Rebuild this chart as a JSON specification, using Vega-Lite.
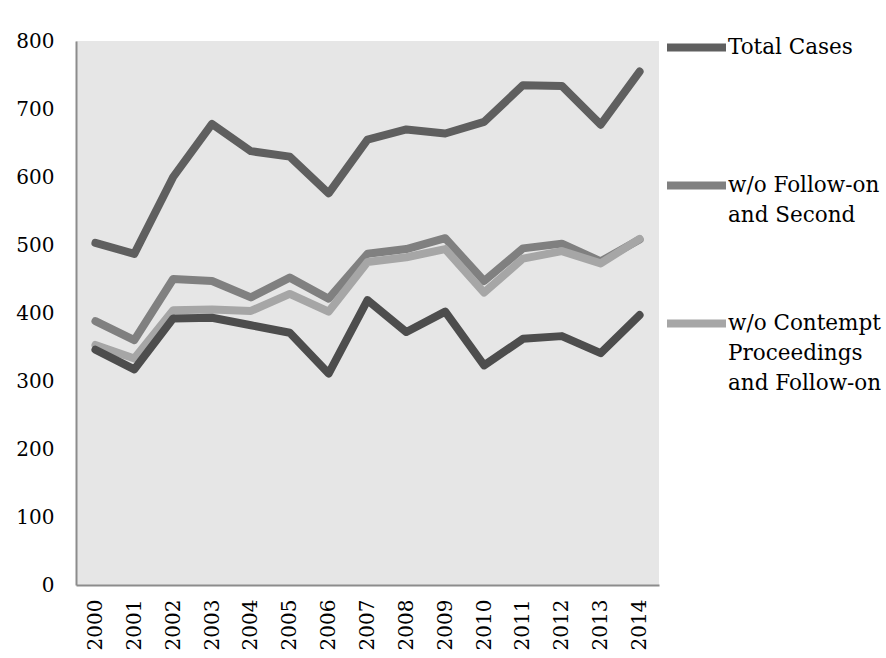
{
  "$schema": "https://vega.github.io/schema/vega-lite/v6.json",
  "width": 583,
  "height": 544,
  "autosize": {"type": "none"},
  "padding": {"left": 76, "top": 41, "right": 227, "bottom": 73},
  "background": "white",
  "config": {
    "font": "DejaVu Serif",
    "view": {"fill": "#e6e6e6", "stroke": null},
    "style": {"guide-label": {"lineHeight": 30}}
  },
  "data": {
    "values": [
      {"year": "2000", "series": "Total Cases", "cases": 503},
      {"year": "2001", "series": "Total Cases", "cases": 487},
      {"year": "2002", "series": "Total Cases", "cases": 600},
      {"year": "2003", "series": "Total Cases", "cases": 678},
      {"year": "2004", "series": "Total Cases", "cases": 638},
      {"year": "2005", "series": "Total Cases", "cases": 630},
      {"year": "2006", "series": "Total Cases", "cases": 576},
      {"year": "2007", "series": "Total Cases", "cases": 655},
      {"year": "2008", "series": "Total Cases", "cases": 670},
      {"year": "2009", "series": "Total Cases", "cases": 664},
      {"year": "2010", "series": "Total Cases", "cases": 681},
      {"year": "2011", "series": "Total Cases", "cases": 735},
      {"year": "2012", "series": "Total Cases", "cases": 734},
      {"year": "2013", "series": "Total Cases", "cases": 677},
      {"year": "2014", "series": "Total Cases", "cases": 755},
      {"year": "2000", "series": "w/o Follow-on and Second", "cases": 388},
      {"year": "2001", "series": "w/o Follow-on and Second", "cases": 360},
      {"year": "2002", "series": "w/o Follow-on and Second", "cases": 450},
      {"year": "2003", "series": "w/o Follow-on and Second", "cases": 447},
      {"year": "2004", "series": "w/o Follow-on and Second", "cases": 423},
      {"year": "2005", "series": "w/o Follow-on and Second", "cases": 452},
      {"year": "2006", "series": "w/o Follow-on and Second", "cases": 421},
      {"year": "2007", "series": "w/o Follow-on and Second", "cases": 487},
      {"year": "2008", "series": "w/o Follow-on and Second", "cases": 494},
      {"year": "2009", "series": "w/o Follow-on and Second", "cases": 510},
      {"year": "2010", "series": "w/o Follow-on and Second", "cases": 447},
      {"year": "2011", "series": "w/o Follow-on and Second", "cases": 495},
      {"year": "2012", "series": "w/o Follow-on and Second", "cases": 502},
      {"year": "2013", "series": "w/o Follow-on and Second", "cases": 476},
      {"year": "2014", "series": "w/o Follow-on and Second", "cases": 508},
      {"year": "2000", "series": "w/o Contempt Proceedings and Follow-on", "cases": 353},
      {"year": "2001", "series": "w/o Contempt Proceedings and Follow-on", "cases": 333},
      {"year": "2002", "series": "w/o Contempt Proceedings and Follow-on", "cases": 404},
      {"year": "2003", "series": "w/o Contempt Proceedings and Follow-on", "cases": 405},
      {"year": "2004", "series": "w/o Contempt Proceedings and Follow-on", "cases": 403},
      {"year": "2005", "series": "w/o Contempt Proceedings and Follow-on", "cases": 428},
      {"year": "2006", "series": "w/o Contempt Proceedings and Follow-on", "cases": 402},
      {"year": "2007", "series": "w/o Contempt Proceedings and Follow-on", "cases": 475},
      {"year": "2008", "series": "w/o Contempt Proceedings and Follow-on", "cases": 482},
      {"year": "2009", "series": "w/o Contempt Proceedings and Follow-on", "cases": 494},
      {"year": "2010", "series": "w/o Contempt Proceedings and Follow-on", "cases": 430},
      {"year": "2011", "series": "w/o Contempt Proceedings and Follow-on", "cases": 480},
      {"year": "2012", "series": "w/o Contempt Proceedings and Follow-on", "cases": 491},
      {"year": "2013", "series": "w/o Contempt Proceedings and Follow-on", "cases": 473},
      {"year": "2014", "series": "w/o Contempt Proceedings and Follow-on", "cases": 509},
      {"year": "2000", "series": "Series 4", "cases": 346},
      {"year": "2001", "series": "Series 4", "cases": 317},
      {"year": "2002", "series": "Series 4", "cases": 392},
      {"year": "2003", "series": "Series 4", "cases": 393},
      {"year": "2004", "series": "Series 4", "cases": 382},
      {"year": "2005", "series": "Series 4", "cases": 371},
      {"year": "2006", "series": "Series 4", "cases": 311},
      {"year": "2007", "series": "Series 4", "cases": 419},
      {"year": "2008", "series": "Series 4", "cases": 372},
      {"year": "2009", "series": "Series 4", "cases": 402},
      {"year": "2010", "series": "Series 4", "cases": 323},
      {"year": "2011", "series": "Series 4", "cases": 362},
      {"year": "2012", "series": "Series 4", "cases": 366},
      {"year": "2013", "series": "Series 4", "cases": 341},
      {"year": "2014", "series": "Series 4", "cases": 397}
    ]
  },
  "mark": {"type": "line", "strokeWidth": 8, "strokeCap": "round", "strokeJoin": "round"},
  "encoding": {
    "x": {
      "field": "year",
      "type": "ordinal",
      "scale": {"type": "point", "padding": 0.5},
      "axis": {
        "title": null,
        "labelAngle": -90,
        "labelFontSize": 20,
        "labelColor": "black",
        "labelPadding": 14,
        "ticks": false,
        "tickSize": 0,
        "domainColor": "#8c8c8c",
        "domainWidth": 2
      }
    },
    "y": {
      "field": "cases",
      "type": "quantitative",
      "scale": {"domain": [0, 800], "nice": false},
      "axis": {
        "title": null,
        "values": [0, 100, 200, 300, 400, 500, 600, 700, 800],
        "grid": false,
        "ticks": false,
        "tickSize": 0,
        "labelFontSize": 20,
        "labelColor": "black",
        "labelPadding": 22,
        "domainColor": "#8c8c8c",
        "domainWidth": 2
      }
    },
    "color": {
      "field": "series",
      "type": "nominal",
      "sort": null,
      "scale": {
        "domain": ["Total Cases", "w/o Follow-on and Second", "w/o Contempt Proceedings and Follow-on", "Series 4"],
        "range": ["#5f5f5f", "#808080", "#a6a6a6", "#4d4d4d"]
      },
      "legend": {
        "title": null,
        "orient": "none",
        "legendX": 587,
        "legendY": -27,
        "padding": 0,
        "values": ["Total Cases", "w/o Follow-on and Second", "w/o Contempt Proceedings and Follow-on"],
        "symbolType": "stroke",
        "symbolSize": 3481,
        "symbolStrokeWidth": 8,
        "labelOffset": -2,
        "labelFontSize": 21.5,
        "labelColor": "black",
        "labelLimit": 400,
        "labelBaseline": "middle",
        "gridAlign": "all",
        "rowPadding": 34,
        "labelExpr": "datum.label == 'Total Cases' ? 'Total Cases' : datum.label == 'w/o Follow-on and Second' ? ['w/o Follow-on', 'and Second'] : ['w/o Contempt', 'Proceedings', 'and Follow-on']"
      }
    }
  }
}
